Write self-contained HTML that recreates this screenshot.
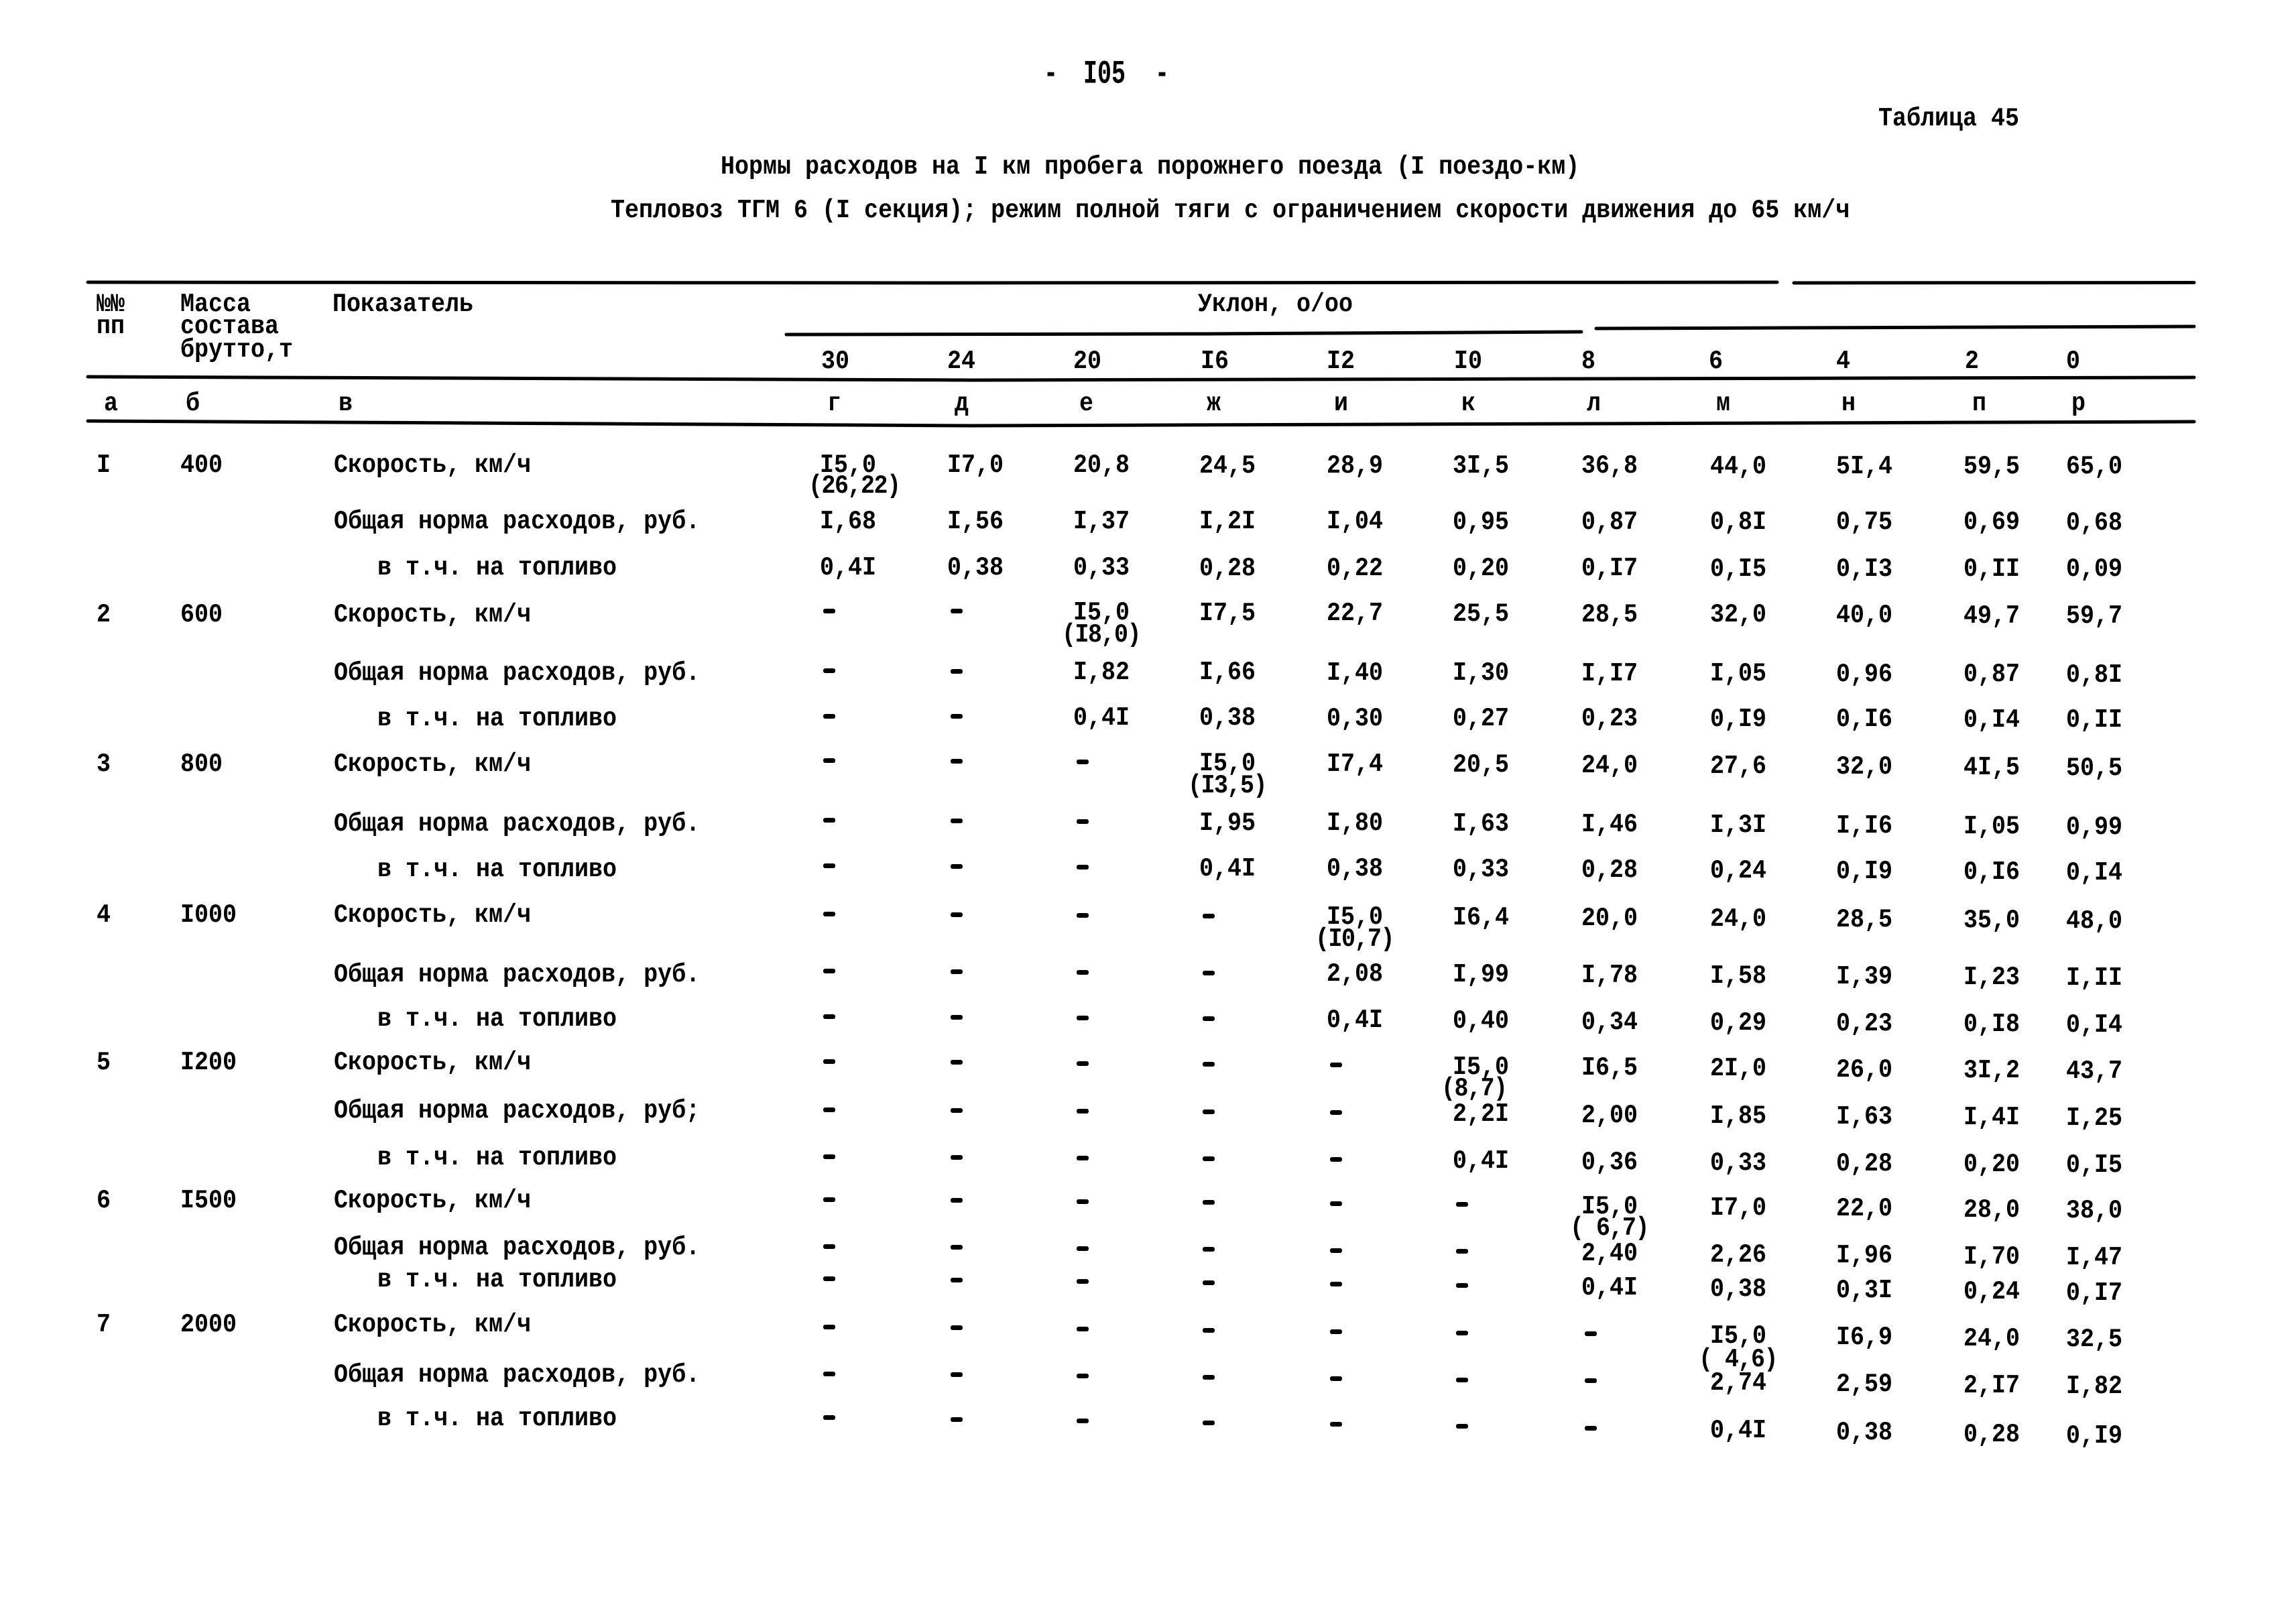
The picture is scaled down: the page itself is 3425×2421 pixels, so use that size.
<!DOCTYPE html>
<html><head><meta charset="utf-8">
<style>
html,body{margin:0;padding:0;background:#fff}
body{width:3425px;height:2421px;position:relative;overflow:hidden}
.t{position:absolute;font:bold 35px/35px "Liberation Mono","DejaVu Sans Mono",monospace;white-space:pre;transform:scaleY(1.1);transform-origin:0 50%;color:#000}
.p{letter-spacing:-1.5px}
.d{position:absolute;width:18px;height:7px;background:#000;border-radius:3px}
.big{transform:scaleY(1.4)}
svg{position:absolute;left:0;top:0}
</style></head><body>

<svg width="3425" height="2421" viewBox="0 0 3425 2421">
<g fill="none" stroke="#000" stroke-width="5" stroke-linecap="round">
<polyline points="131,421 1400,422 2651,421"/>
<polyline points="2676,422 3273,421.5"/>
<polyline points="1173,499 1800,498 2359,495"/>
<polyline points="2381,490 3273,487"/>
<polyline points="131,562 1450,567 3273,563"/>
<polyline points="131,628 1450,635 3273,629"/>
</g>
</svg>

<div class="t big" style="left:1557px;top:94px">-</div>
<div class="t big" style="left:1616px;top:94px">I05</div>
<div class="t big" style="left:1723px;top:94px">-</div>
<div class="t" style="left:2802px;top:160px">Таблица 45</div>
<div class="t" style="left:1075px;top:232px">Нормы расходов на I км пробега порожнего поезда (I поездо-км)</div>
<div class="t" style="left:911px;top:297px">Тепловоз ТГМ 6 (I секция); режим полной тяги с ограничением скорости движения до 65 км/ч</div>

<div class="t" style="left:144px;top:437px">№№</div>
<div class="t" style="left:144px;top:470px">пп</div>
<div class="t" style="left:269px;top:437px">Масса</div>
<div class="t" style="left:269px;top:470px">состава</div>
<div class="t" style="left:269px;top:505px">брутто,т</div>
<div class="t" style="left:496px;top:437px">Показатель</div>
<div class="t" style="left:1787px;top:437px">Уклон, о/оо</div>

<div class="t" style="left:1225px;top:522px">30</div>
<div class="t" style="left:1413px;top:522px">24</div>
<div class="t" style="left:1601px;top:522px">20</div>
<div class="t" style="left:1791px;top:522px">I6</div>
<div class="t" style="left:1979px;top:522px">I2</div>
<div class="t" style="left:2169px;top:522px">I0</div>
<div class="t" style="left:2359px;top:522px">8</div>
<div class="t" style="left:2549px;top:522px">6</div>
<div class="t" style="left:2739px;top:522px">4</div>
<div class="t" style="left:2931px;top:522px">2</div>
<div class="t" style="left:3082px;top:522px">0</div>

<div class="t" style="left:155px;top:585px">а</div>
<div class="t" style="left:277px;top:585px">б</div>
<div class="t" style="left:505px;top:585px">в</div>
<div class="t" style="left:1234px;top:585px">г</div>
<div class="t" style="left:1424px;top:585px">д</div>
<div class="t" style="left:1610px;top:585px">е</div>
<div class="t" style="left:1800px;top:585px">ж</div>
<div class="t" style="left:1990px;top:585px">и</div>
<div class="t" style="left:2180px;top:585px">к</div>
<div class="t" style="left:2367px;top:585px">л</div>
<div class="t" style="left:2560px;top:585px">м</div>
<div class="t" style="left:2747px;top:585px">н</div>
<div class="t" style="left:2942px;top:585px">п</div>
<div class="t" style="left:3090px;top:585px">р</div>

<!-- Row 1 -->
<div class="t" style="left:144px;top:677px">I</div>
<div class="t" style="left:269px;top:677px">400</div>
<div class="t" style="left:498px;top:677px">Скорость, км/ч</div>
<div class="t" style="left:1223px;top:677px">I5,0</div>
<div class="t p" style="left:1206px;top:708px">(26,22)</div>
<div class="t" style="left:1413px;top:677px">I7,0</div>
<div class="t" style="left:1601px;top:677px">20,8</div>
<div class="t" style="left:1789px;top:678px">24,5</div>
<div class="t" style="left:1979px;top:678px">28,9</div>
<div class="t" style="left:2167px;top:678px">3I,5</div>
<div class="t" style="left:2359px;top:678px">36,8</div>
<div class="t" style="left:2551px;top:679px">44,0</div>
<div class="t" style="left:2739px;top:679px">5I,4</div>
<div class="t" style="left:2929px;top:679px">59,5</div>
<div class="t" style="left:3082px;top:679px">65,0</div>

<div class="t" style="left:498px;top:761px">Общая норма расходов, руб.</div>
<div class="t" style="left:1223px;top:761px">I,68</div>
<div class="t" style="left:1413px;top:761px">I,56</div>
<div class="t" style="left:1601px;top:761px">I,37</div>
<div class="t" style="left:1789px;top:761px">I,2I</div>
<div class="t" style="left:1979px;top:761px">I,04</div>
<div class="t" style="left:2167px;top:762px">0,95</div>
<div class="t" style="left:2359px;top:762px">0,87</div>
<div class="t" style="left:2551px;top:762px">0,8I</div>
<div class="t" style="left:2739px;top:762px">0,75</div>
<div class="t" style="left:2929px;top:762px">0,69</div>
<div class="t" style="left:3082px;top:763px">0,68</div>

<div class="t" style="left:563px;top:830px">в т.ч. на топливо</div>
<div class="t" style="left:1223px;top:830px">0,4I</div>
<div class="t" style="left:1413px;top:830px">0,38</div>
<div class="t" style="left:1601px;top:830px">0,33</div>
<div class="t" style="left:1789px;top:831px">0,28</div>
<div class="t" style="left:1979px;top:831px">0,22</div>
<div class="t" style="left:2167px;top:831px">0,20</div>
<div class="t" style="left:2359px;top:831px">0,I7</div>
<div class="t" style="left:2551px;top:832px">0,I5</div>
<div class="t" style="left:2739px;top:832px">0,I3</div>
<div class="t" style="left:2929px;top:832px">0,II</div>
<div class="t" style="left:3082px;top:832px">0,09</div>

<!-- Row 2 -->
<div class="t" style="left:144px;top:900px">2</div>
<div class="t" style="left:269px;top:900px">600</div>
<div class="t" style="left:498px;top:900px">Скорость, км/ч</div>
<div class="d" style="left:1228px;top:908px"></div>
<div class="d" style="left:1418px;top:908px"></div>
<div class="t" style="left:1601px;top:897px">I5,0</div>
<div class="t p" style="left:1584px;top:930px">(I8,0)</div>
<div class="t" style="left:1789px;top:898px">I7,5</div>
<div class="t" style="left:1979px;top:898px">22,7</div>
<div class="t" style="left:2167px;top:899px">25,5</div>
<div class="t" style="left:2359px;top:900px">28,5</div>
<div class="t" style="left:2551px;top:900px">32,0</div>
<div class="t" style="left:2739px;top:901px">40,0</div>
<div class="t" style="left:2929px;top:902px">49,7</div>
<div class="t" style="left:3082px;top:902px">59,7</div>

<div class="t" style="left:498px;top:987px">Общая норма расходов, руб.</div>
<div class="d" style="left:1228px;top:997px"></div>
<div class="d" style="left:1418px;top:998px"></div>
<div class="t" style="left:1601px;top:986px">I,82</div>
<div class="t" style="left:1789px;top:986px">I,66</div>
<div class="t" style="left:1979px;top:987px">I,40</div>
<div class="t" style="left:2167px;top:987px">I,30</div>
<div class="t" style="left:2359px;top:988px">I,I7</div>
<div class="t" style="left:2551px;top:988px">I,05</div>
<div class="t" style="left:2739px;top:989px">0,96</div>
<div class="t" style="left:2929px;top:989px">0,87</div>
<div class="t" style="left:3082px;top:990px">0,8I</div>

<div class="t" style="left:563px;top:1055px">в т.ч. на топливо</div>
<div class="d" style="left:1228px;top:1065px"></div>
<div class="d" style="left:1418px;top:1065px"></div>
<div class="t" style="left:1601px;top:1054px">0,4I</div>
<div class="t" style="left:1789px;top:1054px">0,38</div>
<div class="t" style="left:1979px;top:1055px">0,30</div>
<div class="t" style="left:2167px;top:1055px">0,27</div>
<div class="t" style="left:2359px;top:1055px">0,23</div>
<div class="t" style="left:2551px;top:1056px">0,I9</div>
<div class="t" style="left:2739px;top:1056px">0,I6</div>
<div class="t" style="left:2929px;top:1057px">0,I4</div>
<div class="t" style="left:3082px;top:1057px">0,II</div>

<!-- Row 3 -->
<div class="t" style="left:144px;top:1123px">3</div>
<div class="t" style="left:269px;top:1123px">800</div>
<div class="t" style="left:498px;top:1123px">Скорость, км/ч</div>
<div class="d" style="left:1228px;top:1131px"></div>
<div class="d" style="left:1418px;top:1132px"></div>
<div class="d" style="left:1606px;top:1133px"></div>
<div class="t" style="left:1789px;top:1122px">I5,0</div>
<div class="t p" style="left:1772px;top:1155px">(I3,5)</div>
<div class="t" style="left:1979px;top:1123px">I7,4</div>
<div class="t" style="left:2167px;top:1124px">20,5</div>
<div class="t" style="left:2359px;top:1125px">24,0</div>
<div class="t" style="left:2551px;top:1126px">27,6</div>
<div class="t" style="left:2739px;top:1127px">32,0</div>
<div class="t" style="left:2929px;top:1128px">4I,5</div>
<div class="t" style="left:3082px;top:1129px">50,5</div>

<div class="t" style="left:498px;top:1212px">Общая норма расходов, руб.</div>
<div class="d" style="left:1228px;top:1220px"></div>
<div class="d" style="left:1418px;top:1221px"></div>
<div class="d" style="left:1606px;top:1222px"></div>
<div class="t" style="left:1789px;top:1211px">I,95</div>
<div class="t" style="left:1979px;top:1211px">I,80</div>
<div class="t" style="left:2167px;top:1212px">I,63</div>
<div class="t" style="left:2359px;top:1213px">I,46</div>
<div class="t" style="left:2551px;top:1214px">I,3I</div>
<div class="t" style="left:2739px;top:1215px">I,I6</div>
<div class="t" style="left:2929px;top:1216px">I,05</div>
<div class="t" style="left:3082px;top:1217px">0,99</div>

<div class="t" style="left:563px;top:1280px">в т.ч. на топливо</div>
<div class="d" style="left:1228px;top:1288px"></div>
<div class="d" style="left:1418px;top:1289px"></div>
<div class="d" style="left:1606px;top:1290px"></div>
<div class="t" style="left:1789px;top:1279px">0,4I</div>
<div class="t" style="left:1979px;top:1279px">0,38</div>
<div class="t" style="left:2167px;top:1280px">0,33</div>
<div class="t" style="left:2359px;top:1281px">0,28</div>
<div class="t" style="left:2551px;top:1282px">0,24</div>
<div class="t" style="left:2739px;top:1283px">0,I9</div>
<div class="t" style="left:2929px;top:1284px">0,I6</div>
<div class="t" style="left:3082px;top:1285px">0,I4</div>

<!-- Row 4 -->
<div class="t" style="left:144px;top:1348px">4</div>
<div class="t" style="left:269px;top:1348px">I000</div>
<div class="t" style="left:498px;top:1348px">Скорость, км/ч</div>
<div class="d" style="left:1228px;top:1360px"></div>
<div class="d" style="left:1418px;top:1361px"></div>
<div class="d" style="left:1606px;top:1362px"></div>
<div class="d" style="left:1794px;top:1363px"></div>
<div class="t" style="left:1979px;top:1351px">I5,0</div>
<div class="t p" style="left:1962px;top:1384px">(I0,7)</div>
<div class="t" style="left:2167px;top:1352px">I6,4</div>
<div class="t" style="left:2359px;top:1353px">20,0</div>
<div class="t" style="left:2551px;top:1354px">24,0</div>
<div class="t" style="left:2739px;top:1355px">28,5</div>
<div class="t" style="left:2929px;top:1356px">35,0</div>
<div class="t" style="left:3082px;top:1357px">48,0</div>

<div class="t" style="left:498px;top:1437px">Общая норма расходов, руб.</div>
<div class="d" style="left:1228px;top:1445px"></div>
<div class="d" style="left:1418px;top:1446px"></div>
<div class="d" style="left:1606px;top:1447px"></div>
<div class="d" style="left:1794px;top:1448px"></div>
<div class="t" style="left:1979px;top:1436px">2,08</div>
<div class="t" style="left:2167px;top:1437px">I,99</div>
<div class="t" style="left:2359px;top:1438px">I,78</div>
<div class="t" style="left:2551px;top:1439px">I,58</div>
<div class="t" style="left:2739px;top:1440px">I,39</div>
<div class="t" style="left:2929px;top:1441px">I,23</div>
<div class="t" style="left:3082px;top:1442px">I,II</div>

<div class="t" style="left:563px;top:1503px">в т.ч. на топливо</div>
<div class="d" style="left:1228px;top:1513px"></div>
<div class="d" style="left:1418px;top:1514px"></div>
<div class="d" style="left:1606px;top:1515px"></div>
<div class="d" style="left:1794px;top:1516px"></div>
<div class="t" style="left:1979px;top:1505px">0,4I</div>
<div class="t" style="left:2167px;top:1506px">0,40</div>
<div class="t" style="left:2359px;top:1508px">0,34</div>
<div class="t" style="left:2551px;top:1509px">0,29</div>
<div class="t" style="left:2739px;top:1510px">0,23</div>
<div class="t" style="left:2929px;top:1511px">0,I8</div>
<div class="t" style="left:3082px;top:1512px">0,I4</div>

<!-- Row 5 -->
<div class="t" style="left:144px;top:1568px">5</div>
<div class="t" style="left:269px;top:1568px">I200</div>
<div class="t" style="left:498px;top:1568px">Скорость, км/ч</div>
<div class="d" style="left:1228px;top:1580px"></div>
<div class="d" style="left:1418px;top:1581px"></div>
<div class="d" style="left:1606px;top:1583px"></div>
<div class="d" style="left:1794px;top:1584px"></div>
<div class="d" style="left:1984px;top:1585px"></div>
<div class="t" style="left:2167px;top:1575px">I5,0</div>
<div class="t p" style="left:2150px;top:1607px">(8,7)</div>
<div class="t" style="left:2359px;top:1576px">I6,5</div>
<div class="t" style="left:2551px;top:1577px">2I,0</div>
<div class="t" style="left:2739px;top:1579px">26,0</div>
<div class="t" style="left:2929px;top:1580px">3I,2</div>
<div class="t" style="left:3082px;top:1581px">43,7</div>

<div class="t" style="left:498px;top:1640px">Общая норма расходов, руб;</div>
<div class="d" style="left:1228px;top:1652px"></div>
<div class="d" style="left:1418px;top:1653px"></div>
<div class="d" style="left:1606px;top:1654px"></div>
<div class="d" style="left:1794px;top:1655px"></div>
<div class="d" style="left:1984px;top:1656px"></div>
<div class="t" style="left:2167px;top:1645px">2,2I</div>
<div class="t" style="left:2359px;top:1647px">2,00</div>
<div class="t" style="left:2551px;top:1648px">I,85</div>
<div class="t" style="left:2739px;top:1649px">I,63</div>
<div class="t" style="left:2929px;top:1650px">I,4I</div>
<div class="t" style="left:3082px;top:1651px">I,25</div>

<div class="t" style="left:563px;top:1710px">в т.ч. на топливо</div>
<div class="d" style="left:1228px;top:1722px"></div>
<div class="d" style="left:1418px;top:1723px"></div>
<div class="d" style="left:1606px;top:1724px"></div>
<div class="d" style="left:1794px;top:1725px"></div>
<div class="d" style="left:1984px;top:1726px"></div>
<div class="t" style="left:2167px;top:1715px">0,4I</div>
<div class="t" style="left:2359px;top:1717px">0,36</div>
<div class="t" style="left:2551px;top:1718px">0,33</div>
<div class="t" style="left:2739px;top:1719px">0,28</div>
<div class="t" style="left:2929px;top:1720px">0,20</div>
<div class="t" style="left:3082px;top:1721px">0,I5</div>

<!-- Row 6 -->
<div class="t" style="left:144px;top:1774px">6</div>
<div class="t" style="left:269px;top:1774px">I500</div>
<div class="t" style="left:498px;top:1774px">Скорость, км/ч</div>
<div class="d" style="left:1228px;top:1786px"></div>
<div class="d" style="left:1418px;top:1787px"></div>
<div class="d" style="left:1606px;top:1789px"></div>
<div class="d" style="left:1794px;top:1790px"></div>
<div class="d" style="left:1984px;top:1792px"></div>
<div class="d" style="left:2172px;top:1793px"></div>
<div class="t" style="left:2359px;top:1783px">I5,0</div>
<div class="t p" style="left:2342px;top:1815px">( 6,7)</div>
<div class="t" style="left:2551px;top:1785px">I7,0</div>
<div class="t" style="left:2739px;top:1786px">22,0</div>
<div class="t" style="left:2929px;top:1788px">28,0</div>
<div class="t" style="left:3082px;top:1789px">38,0</div>

<div class="t" style="left:498px;top:1844px">Общая норма расходов, руб.</div>
<div class="d" style="left:1228px;top:1856px"></div>
<div class="d" style="left:1418px;top:1857px"></div>
<div class="d" style="left:1606px;top:1859px"></div>
<div class="d" style="left:1794px;top:1860px"></div>
<div class="d" style="left:1984px;top:1862px"></div>
<div class="d" style="left:2172px;top:1863px"></div>
<div class="t" style="left:2359px;top:1853px">2,40</div>
<div class="t" style="left:2551px;top:1855px">2,26</div>
<div class="t" style="left:2739px;top:1856px">I,96</div>
<div class="t" style="left:2929px;top:1858px">I,70</div>
<div class="t" style="left:3082px;top:1859px">I,47</div>

<div class="t" style="left:563px;top:1892px">в т.ч. на топливо</div>
<div class="d" style="left:1228px;top:1904px"></div>
<div class="d" style="left:1418px;top:1906px"></div>
<div class="d" style="left:1606px;top:1908px"></div>
<div class="d" style="left:1794px;top:1910px"></div>
<div class="d" style="left:1984px;top:1912px"></div>
<div class="d" style="left:2172px;top:1914px"></div>
<div class="t" style="left:2359px;top:1904px">0,4I</div>
<div class="t" style="left:2551px;top:1906px">0,38</div>
<div class="t" style="left:2739px;top:1908px">0,3I</div>
<div class="t" style="left:2929px;top:1910px">0,24</div>
<div class="t" style="left:3082px;top:1912px">0,I7</div>

<!-- Row 7 -->
<div class="t" style="left:144px;top:1959px">7</div>
<div class="t" style="left:269px;top:1959px">2000</div>
<div class="t" style="left:498px;top:1959px">Скорость, км/ч</div>
<div class="d" style="left:1228px;top:1976px"></div>
<div class="d" style="left:1418px;top:1977px"></div>
<div class="d" style="left:1606px;top:1979px"></div>
<div class="d" style="left:1794px;top:1981px"></div>
<div class="d" style="left:1984px;top:1983px"></div>
<div class="d" style="left:2172px;top:1985px"></div>
<div class="d" style="left:2364px;top:1986px"></div>
<div class="t" style="left:2551px;top:1976px">I5,0</div>
<div class="t p" style="left:2534px;top:2011px">( 4,6)</div>
<div class="t" style="left:2739px;top:1978px">I6,9</div>
<div class="t" style="left:2929px;top:1980px">24,0</div>
<div class="t" style="left:3082px;top:1981px">32,5</div>

<div class="t" style="left:498px;top:2034px">Общая норма расходов, руб.</div>
<div class="d" style="left:1228px;top:2046px"></div>
<div class="d" style="left:1418px;top:2047px"></div>
<div class="d" style="left:1606px;top:2049px"></div>
<div class="d" style="left:1794px;top:2051px"></div>
<div class="d" style="left:1984px;top:2053px"></div>
<div class="d" style="left:2172px;top:2055px"></div>
<div class="d" style="left:2364px;top:2056px"></div>
<div class="t" style="left:2551px;top:2046px">2,74</div>
<div class="t" style="left:2739px;top:2048px">2,59</div>
<div class="t" style="left:2929px;top:2050px">2,I7</div>
<div class="t" style="left:3082px;top:2051px">I,82</div>

<div class="t" style="left:563px;top:2099px">в т.ч. на топливо</div>
<div class="d" style="left:1228px;top:2111px"></div>
<div class="d" style="left:1418px;top:2114px"></div>
<div class="d" style="left:1606px;top:2116px"></div>
<div class="d" style="left:1794px;top:2119px"></div>
<div class="d" style="left:1984px;top:2121px"></div>
<div class="d" style="left:2172px;top:2124px"></div>
<div class="d" style="left:2364px;top:2127px"></div>
<div class="t" style="left:2551px;top:2117px">0,4I</div>
<div class="t" style="left:2739px;top:2120px">0,38</div>
<div class="t" style="left:2929px;top:2123px">0,28</div>
<div class="t" style="left:3082px;top:2125px">0,I9</div>

</body></html>
